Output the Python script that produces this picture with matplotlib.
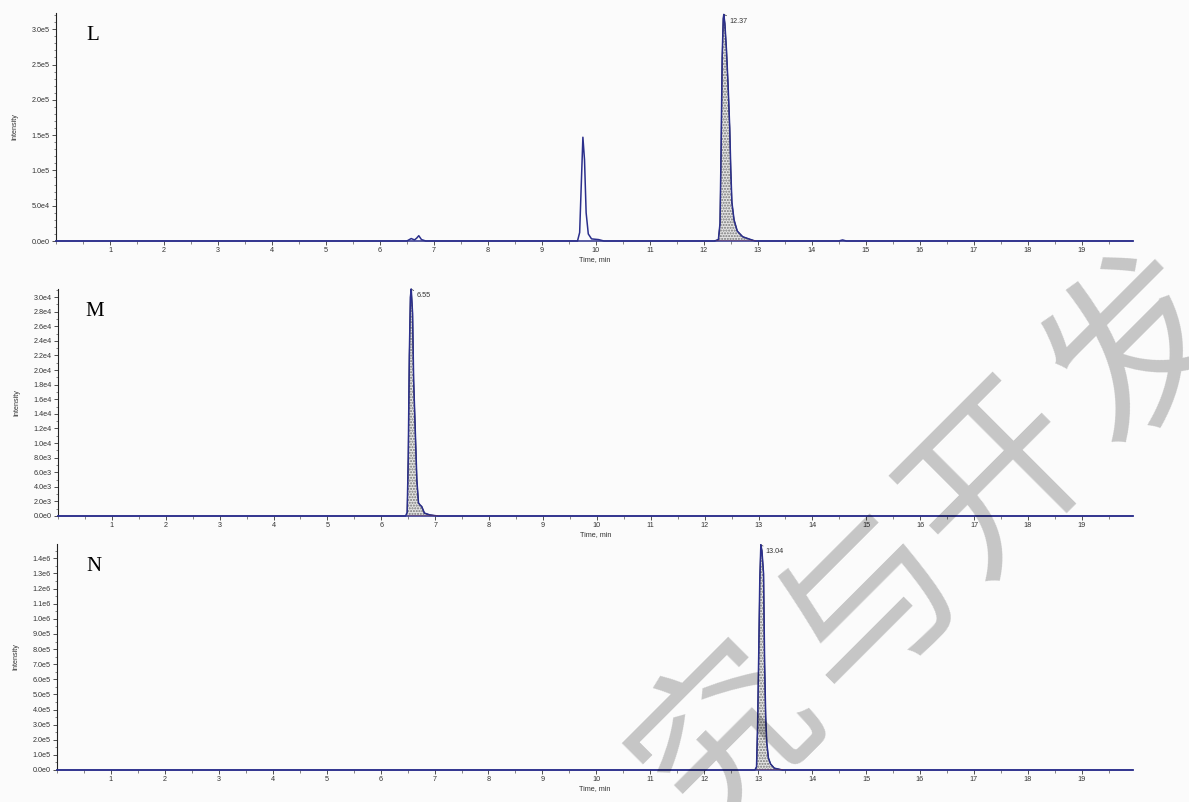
import math

import matplotlib
matplotlib.use("Agg")
import matplotlib.pyplot as plt
from matplotlib.ticker import AutoMinorLocator, FuncFormatter, MultipleLocator

W, H = 1189, 802

# trace L (retention time in min, intensity)
L_TIME = [0.0, 6.50, 6.58, 6.64, 6.68, 6.72, 6.77, 6.85, 9.66, 9.70, 9.73, 9.76, 9.79,
          9.82, 9.86, 9.92, 10.05, 10.15, 12.20, 12.27, 12.30, 12.32, 12.34, 12.36,
          12.37, 12.39, 12.42, 12.45, 12.48, 12.50, 12.52, 12.56, 12.62, 12.72, 12.85,
          12.95, 14.50, 14.57, 14.64, 19.95]
L_INT = [0, 0, 3.5e3, 1.5e3, 4.0e3, 7.5e3, 2.0e3, 0, 0, 1.2e4, 8.0e4, 1.47e5, 1.15e5,
         4.0e4, 1.0e4, 3.0e3, 2.0e3, 0, 0, 2.0e3, 2.5e4, 1.3e5, 2.6e5, 3.15e5,
         3.21e5, 3.08e5, 2.70e5, 2.20e5, 1.60e5, 1.00e5, 5.5e4, 3.0e4, 1.4e4, 6.0e3,
         2.5e3, 0, 0, 1.5e3, 0, 0]
L_PEAK = (12.20, 12.95, 12.37)

# trace M
M_TIME = [0.0, 6.45, 6.48, 6.50, 6.52, 6.54, 6.555, 6.58, 6.60, 6.63, 6.66, 6.69,
          6.72, 6.75, 6.80, 6.90, 7.05, 19.95]
M_INT = [0, 0, 5.0e2, 8.0e3, 2.2e4, 3.0e4, 3.11e4, 2.78e4, 1.86e4, 1.18e4, 4.9e3,
         1.8e3, 1.5e3, 1.3e3, 4.0e2, 1.5e2, 0, 0]
M_PEAK = (6.47, 7.05, 6.55)

# trace N
N_TIME = [0.0, 12.94, 12.97, 12.99, 13.01, 13.03, 13.05, 13.07, 13.10, 13.12, 13.14,
          13.16, 13.19, 13.23, 13.30, 13.45, 19.95]
N_INT = [0, 0, 2.0e4, 3.0e5, 7.5e5, 1.25e6, 1.49e6, 1.45e6, 1.30e6, 7.0e5, 3.5e5,
         1.8e5, 8.0e4, 4.0e4, 1.2e4, 0, 0]
N_PEAK = (12.94, 13.45, 13.04)

PANELS = [
    # name, time, intensity, peak, ymax, major step, minor div, box (left, top, bottom) px
    ("L", L_TIME, L_INT, L_PEAK, 3.23e5, 5e4, 5, (56, 13, 241)),
    ("M", M_TIME, M_INT, M_PEAK, 3.11e4, 2e3, 2, (58, 289, 516)),
    ("N", N_TIME, N_INT, N_PEAK, 1.495e6, 1e5, 2, (57, 544, 770)),
]

TRACE = "#2b2f8c"
TICK_FONT = dict(family="Liberation Sans", size=5.2, color="#333333")


def sci(v, pos):
    if abs(v) < 1e-9:
        return "0.0e0"
    e = int(math.floor(math.log10(abs(v)) + 1e-9))
    return f"{v / 10 ** e:.1f}e{e}"


fig = plt.figure(figsize=(W / 100, H / 100), dpi=100, facecolor="#fbfbfb")

for name, t, y, peak, ymax, step, minor, (left, top, bottom) in PANELS:
    ax = fig.add_axes([left / W, 1 - bottom / H, (1133 - left) / W, (bottom - top) / H])
    ax.set_facecolor("#fbfbfb")
    ax.set_xlim(0, 19.95)
    ax.set_ylim(0, ymax)

    # integrated peak: hatched area, black outline, red baseline
    t0, t1, rt = peak
    seg_t = [a for a in t if t0 <= a <= t1]
    seg_y = [b for a, b in zip(t, y) if t0 <= a <= t1]
    ax.fill_between(seg_t, 0, seg_y, facecolor="#e4e4e4", edgecolor="#777777",
                    hatch="......", linewidth=0, zorder=2)
    ax.plot(seg_t, seg_y, color="#222222", lw=0.7, zorder=3)
    ax.plot(t, y, color=TRACE, lw=1.1, zorder=4, clip_on=False)
    ax.plot([t0 + 0.03, t1], [0, 0], color="#c0392b", lw=1.0, zorder=5)

    apex = max(seg_y)
    ax.annotate(f"{rt:.2f}", xy=(rt, apex), xytext=(4, -5), textcoords="offset points",
                fontsize=5.2, family="Liberation Sans", color="#333333", va="center",
                arrowprops=dict(arrowstyle="-", lw=0.5, color="#333333",
                                shrinkA=0, shrinkB=0))

    ax.text(0.034, 0.90, name, transform=ax.transAxes, family="Liberation Serif",
            fontsize=15, ha="center", va="center")

    ax.xaxis.set_major_locator(MultipleLocator(1))
    ax.xaxis.set_minor_locator(MultipleLocator(0.5))
    ax.yaxis.set_major_locator(MultipleLocator(step))
    ax.yaxis.set_minor_locator(AutoMinorLocator(minor))
    ax.yaxis.set_major_formatter(FuncFormatter(sci))
    ax.set_xticks([i for i in range(1, 20)])
    ax.set_xticklabels([str(i) for i in range(1, 20)], **TICK_FONT)
    for lab in ax.get_yticklabels():
        lab.set_family(TICK_FONT["family"])
        lab.set_fontsize(TICK_FONT["size"])
        lab.set_color(TICK_FONT["color"])
    ax.tick_params(which="major", length=3, width=0.6, pad=1.5, colors="#333333")
    ax.tick_params(which="minor", length=1.8, width=0.5, colors="#555555")

    for side in ("top", "right"):
        ax.spines[side].set_visible(False)
    ax.spines["left"].set_linewidth(0.8)
    ax.spines["left"].set_color("#222222")
    ax.spines["bottom"].set_color(TRACE)
    ax.spines["bottom"].set_linewidth(1.1)

    ax.set_xlabel("Time, min", family="Liberation Sans", fontsize=5.2,
                  color="#333333", labelpad=1)
    ax.set_ylabel("Intensity", family="Liberation Sans", fontsize=5.2, color="#333333")
    ax.yaxis.set_label_coords(-0.035, 0.5)

# diagonal watermark characters
MARK_CHARS = ["究", "与", "开", "发"]
MARK_POS = [(728, 740), (872, 606), (1000, 480), (1140, 350)]
for ch, (px, py) in zip(MARK_CHARS, MARK_POS):
    fig.text(px / W, 1 - py / H, ch, family=["Noto Sans CJK SC", "DejaVu Sans"],
             fontsize=128, weight="medium", color="black", alpha=0.21, rotation=45,
             ha="center", va="center", rotation_mode="anchor")

fig.savefig("out.png", dpi=100, facecolor=fig.get_facecolor())
